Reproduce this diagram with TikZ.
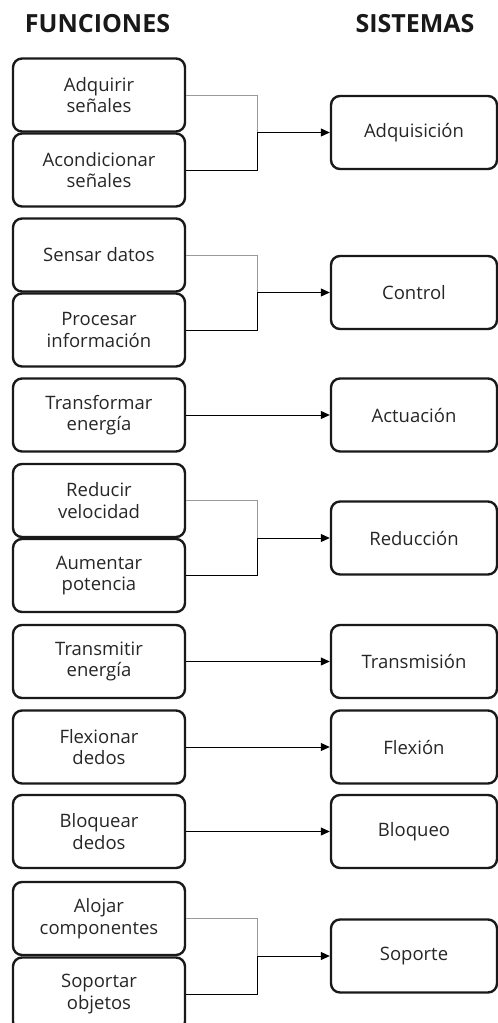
\documentclass[tikz,border=0pt]{standalone}
\usepackage{fontspec}
\setmainfont{Open Sans}
\usetikzlibrary{arrows.meta}
\tikzset{
  fbox/.style={draw=black!90, line width=2.4pt, rounded corners=9pt, minimum width=172pt, minimum height=73pt, align=center, font=\fontsize{18.5}{21.5}\selectfont, text=black!85, inner sep=0pt},
  sbox/.style={draw=black!90, line width=2.4pt, rounded corners=9pt, minimum width=166pt, minimum height=73pt, align=center, font=\fontsize{18.5}{21.5}\selectfont, text=black!85, inner sep=0pt},
  head/.style={font=\bfseries\fontsize{25}{28}\selectfont, text=black!90},
  link/.style={line width=1pt, black},
  glink/.style={line width=0.8pt, black!40},
  arr/.style={line width=1pt, black, -{Triangle[length=9pt,width=8pt]}}
}
\begin{document}
\begin{tikzpicture}[x=1pt,y=-1pt]
\useasboundingbox (0,0) rectangle (498,1023);
\node[head] (hf) at (97.5,23.5) {FUNCIONES};
\node[head] (hs) at (415,23.5) {SISTEMAS};
% left boxes
\node[fbox] (l1) at (99,95) {Adquirir\\señales};
\node[fbox] (l2) at (99,170) {Acondicionar\\señales};
\node[fbox] (l3) at (99,255) {Sensar datos};
\node[fbox] (l4) at (99,330) {Procesar\\información};
\node[fbox] (l5) at (99,415) {Transformar\\energía};
\node[fbox] (l6) at (99,500.5) {Reducir\\velocidad};
\node[fbox] (l7) at (99,575.5) {Aumentar\\potencia};
\node[fbox] (l8) at (99,661.5) {Transmitir\\energía};
\node[fbox] (l9) at (99,747) {Flexionar\\dedos};
\node[fbox] (l10) at (99,831.5) {Bloquear\\dedos};
\node[fbox] (l11) at (99,918.5) {Alojar\\componentes};
\node[fbox] (l12) at (99,994) {Soportar\\objetos};
% right boxes
\node[sbox] (r1) at (414,132.5) {Adquisición};
\node[sbox] (r2) at (414,292.5) {Control};
\node[sbox] (r3) at (414,415) {Actuación};
\node[sbox] (r4) at (414,538) {Reducción};
\node[sbox] (r5) at (414,661.5) {Transmisión};
\node[sbox] (r6) at (414,747) {Flexión};
\node[sbox] (r7) at (414,831.5) {Bloqueo};
\node[sbox] (r8) at (414,956) {Soporte};
% junction coordinates
\coordinate (j1) at (257,132.5);
\coordinate (j2) at (257,292.5);
\coordinate (j4) at (257,538);
\coordinate (j8) at (257,956);
% pair connectors
\draw[glink] (l1.east) -| (j1);
\draw[link] (l2.east) -| (j1);
\draw[arr] (j1) -- (r1.west);
\draw[glink] (l3.east) -| (j2);
\draw[link] (l4.east) -| (j2);
\draw[arr] (j2) -- (r2.west);
\draw[glink] (l6.east) -| (j4);
\draw[link] (l7.east) -| (j4);
\draw[arr] (j4) -- (r4.west);
\draw[glink] (l11.east) -| (j8);
\draw[link] (l12.east) -| (j8);
\draw[arr] (j8) -- (r8.west);
% single connectors
\draw[arr] (l5.east) -- (r3.west);
\draw[arr] (l8.east) -- (r5.west);
\draw[arr] (l9.east) -- (r6.west);
\draw[arr] (l10.east) -- (r7.west);
\end{tikzpicture}
\end{document}
